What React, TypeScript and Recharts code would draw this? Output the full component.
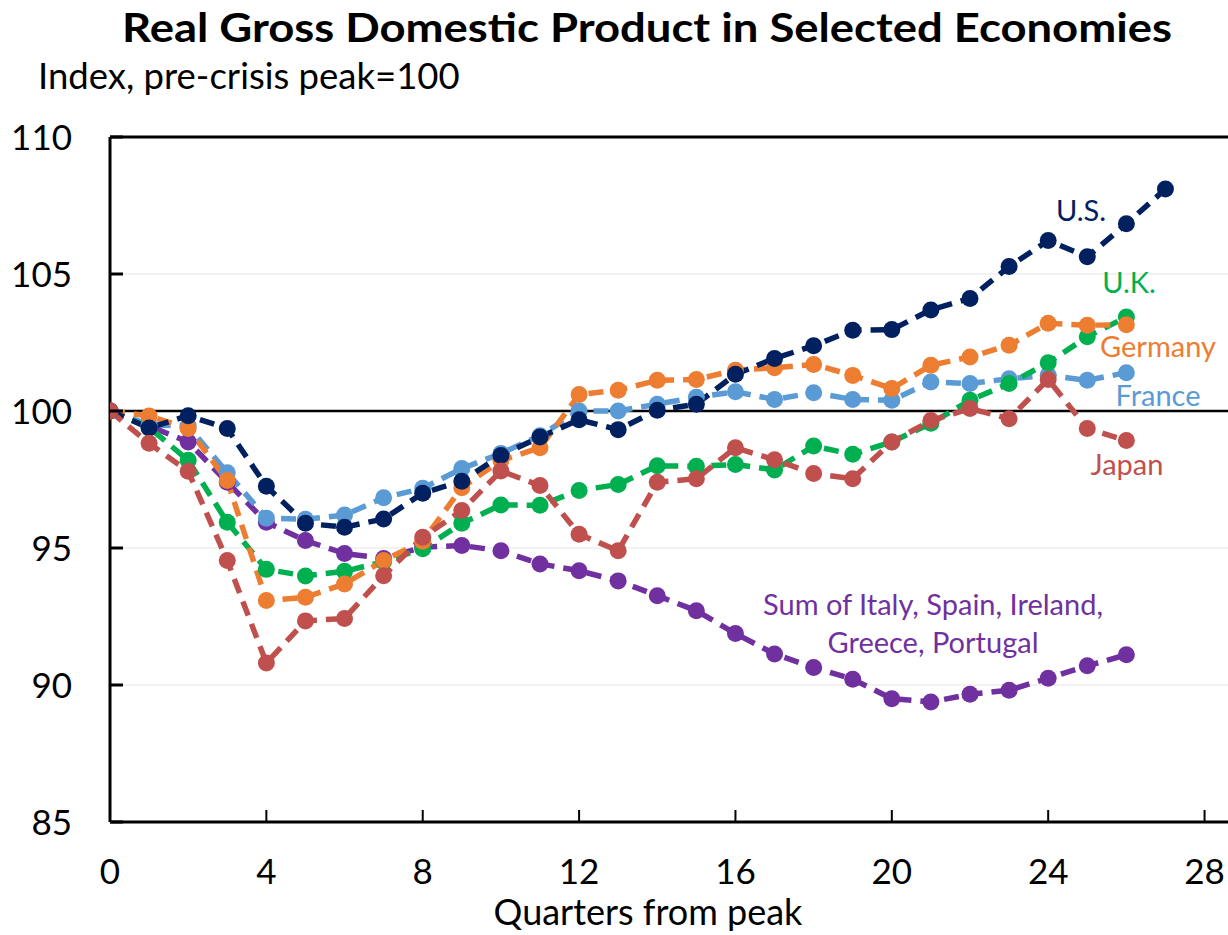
import { LineChart, Line, XAxis, YAxis, CartesianGrid, ReferenceLine } from 'recharts';

const quarters = [0, 1, 2, 3, 4, 5, 6, 7, 8, 9, 10, 11, 12, 13, 14, 15, 16, 17, 18, 19, 20, 21, 22, 23, 24, 25, 26, 27];

const us = [100, 99.38, 99.83, 99.36, 97.25, 95.9, 95.76, 96.06, 97.0, 97.44, 98.38, 99.05, 99.68, 99.32, 100.03, 100.25, 101.34, 101.92, 102.38, 102.95, 102.97, 103.69, 104.11, 105.27, 106.22, 105.63, 106.83, 108.1];
const uk = [100, 99.4, 98.2, 95.94, 94.22, 93.98, 94.15, 94.5, 94.97, 95.9, 96.57, 96.56, 97.1, 97.32, 98.0, 97.98, 98.05, 97.85, 98.72, 98.42, 98.87, 99.55, 100.39, 101.0, 101.76, 102.71, 103.43];
const germany = [100, 99.82, 99.36, 97.46, 93.08, 93.2, 93.69, 94.54, 95.25, 97.2, 98.2, 98.66, 100.6, 100.76, 101.12, 101.15, 101.49, 101.58, 101.7, 101.3, 100.82, 101.67, 101.97, 102.4, 103.2, 103.13, 103.15];
const france = [100, 99.5, 99.45, 97.75, 96.09, 96.05, 96.2, 96.83, 97.18, 97.9, 98.45, 99.1, 100.0, 100.0, 100.25, 100.5, 100.7, 100.42, 100.67, 100.42, 100.39, 101.06, 101.0, 101.18, 101.3, 101.12, 101.4];
const japan = [100, 98.82, 97.8, 94.54, 90.8, 92.34, 92.43, 93.99, 95.39, 96.37, 97.81, 97.28, 95.5, 94.9, 97.4, 97.53, 98.66, 98.22, 97.72, 97.53, 98.87, 99.65, 100.09, 99.72, 101.15, 99.36, 98.92];
const periphery = [100, 99.45, 98.87, 97.4, 95.94, 95.27, 94.8, 94.62, 95.03, 95.09, 94.9, 94.42, 94.17, 93.8, 93.26, 92.71, 91.88, 91.13, 90.64, 90.21, 89.5, 89.38, 89.66, 89.81, 90.25, 90.7, 91.1];

const xTicks = [0, 4, 8, 12, 16, 20, 24, 28];
const yTicks = [85, 90, 95, 100, 105, 110];

const data = quarters.map((q, i) => ({
  q,
  us: us[i],
  uk: uk[i],
  germany: germany[i],
  france: france[i],
  japan: japan[i],
  periphery: periphery[i],
}));

const FONT = 'Lato, "Open Sans", sans-serif';

// bottom to top, same stacking as the original
const series = [
  { key: 'periphery', color: '#7030A0' },
  { key: 'france', color: '#5B9BD5' },
  { key: 'uk', color: '#00B050' },
  { key: 'germany', color: '#ED7D31' },
  { key: 'us', color: '#002060' },
  { key: 'japan', color: '#C0504D' },
];

const YTick = (props: any) => {
  const { x, y, payload } = props;
  return (
    <g>
      <line x1={x} x2={x + 13} y1={y} y2={y} stroke="#000" strokeWidth={3} />
      <text x={x - 38} y={y + 13} textAnchor="end" fontFamily={FONT} fontSize={35} fill="#000">
        {payload.value}
      </text>
    </g>
  );
};

const XTick = (props: any) => {
  const { x, y, payload } = props;
  return (
    <g>
      <line x1={x} x2={x} y1={y} y2={y - 12} stroke="#000" strokeWidth={2} />
      <text x={x} y={y + 62} textAnchor="middle" fontFamily={FONT} fontSize={35} fill="#000">
        {payload.value}
      </text>
    </g>
  );
};

export default function App() {
  return (
    <div style={{ position: 'absolute', left: 0, top: 0, width: 1228, height: 935, background: '#fff' }}>
      <LineChart width={1228} height={935} data={data} margin={{ top: 137, right: 0, bottom: 0, left: 0 }}>
        <CartesianGrid horizontal vertical={false} stroke="#eeeeee" strokeWidth={1.5} />
        <XAxis
          dataKey="q"
          type="number"
          domain={[0, 28.6]}
          ticks={xTicks}
          allowDataOverflow
          height={113}
          tickSize={0}
          tickMargin={0}
          tickLine={false}
          axisLine={{ stroke: '#000', strokeWidth: 3 }}
          tick={<XTick />}
        />
        <YAxis
          type="number"
          domain={[85, 110]}
          ticks={yTicks}
          width={110}
          tickSize={0}
          tickMargin={0}
          tickLine={false}
          axisLine={{ stroke: '#000', strokeWidth: 3 }}
          tick={<YTick />}
        />
        <ReferenceLine y={110} stroke="#000" strokeWidth={3} />
        <ReferenceLine y={100} stroke="#000" strokeWidth={2.5} />
        {series.map((s) => (
          <Line
            key={s.key}
            dataKey={s.key}
            stroke={s.color}
            strokeWidth={5.5}
            strokeDasharray="15 9"
            dot={{ r: 8.5, fill: s.color, stroke: 'none' }}
            activeDot={false}
            isAnimationActive={false}
          />
        ))}
      </LineChart>

      <svg width={1228} height={935} style={{ position: 'absolute', left: 0, top: 0, pointerEvents: 'none' }}>
        <text
          x={122}
          y={42}
          textLength={1050}
          lengthAdjust="spacingAndGlyphs"
          fontFamily={FONT}
          fontWeight={700}
          fontSize={40}
          fill="#000"
        >
          Real Gross Domestic Product in Selected Economies
        </text>
        <text x={38} y={89} fontFamily={FONT} fontSize={36.5} fill="#000">
          Index, pre-crisis peak=100
        </text>
        <text x={648} y={925} textAnchor="middle" fontFamily={FONT} fontSize={36} fill="#000">
          Quarters from peak
        </text>
        <g fontFamily={FONT} fontSize={29}>
          <text x={1081} y={221} textAnchor="middle" fill="#002060">U.S.</text>
          <text x={1129} y={293} textAnchor="middle" fill="#00B050">U.K.</text>
          <text x={1158} y={357} textAnchor="middle" fill="#ED7D31">Germany</text>
          <text x={1158} y={406} textAnchor="middle" fill="#5B9BD5">France</text>
          <text x={1127} y={475} textAnchor="middle" fill="#C0504D">Japan</text>
          <text x={933} y={615} textAnchor="middle" fill="#7030A0">Sum of Italy, Spain, Ireland,</text>
          <text x={933} y={653} textAnchor="middle" fill="#7030A0">Greece, Portugal</text>
        </g>
      </svg>
    </div>
  );
}
